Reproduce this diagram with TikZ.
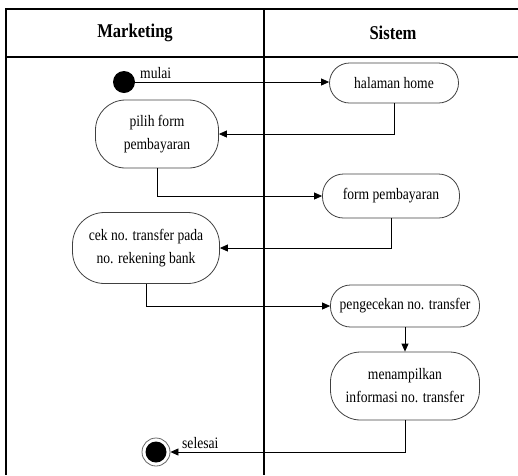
\documentclass[tikz,border=0pt]{standalone}
\usepackage{fontspec}
\setmainfont{Liberation Serif}[FakeStretch=0.85]
\usetikzlibrary{arrows.meta}
\begin{document}
\begin{tikzpicture}[x=1pt,y=-1pt,
  lane/.style={line width=1.1pt,black},
  act/.style={draw=black!75,line width=0.8pt,rounded corners=#1,align=center,
    inner sep=0pt,font=\fontsize{16}{23}\selectfont},
  act/.default=20pt,
  flow/.style={line width=0.8pt,black,-{Triangle[length=8pt,width=7pt]}},
  hdr/.style={font=\fontsize{19.5}{22}\selectfont\bfseries},
  lbl/.style={font=\fontsize{16}{18}\selectfont,inner sep=0pt}]
\useasboundingbox (0,0) rectangle (518,475);
% swimlane frame
\draw[lane] (518,9) -- (6,9) -- (6,475);
\draw[lane] (6,57) -- (518,57);
\draw[lane] (264,9) -- (264,475);
\node[hdr] (hm) at (135,33) {Marketing};
\node[hdr] (hs) at (393,33) {Sistem};
% activities
\node[circle,fill=black,minimum size=22pt,inner sep=0pt] (start) at (124,82) {};
\node[act=20pt,minimum width=129pt,minimum height=40pt] (home) at (394,83) {halaman home};
\node[act=30pt,minimum width=123pt,minimum height=68pt] (pilih) at (157,134) {pilih form\\pembayaran};
\node[act=21pt,minimum width=137pt,minimum height=44pt] (form) at (391,196) {form pembayaran};
\node[act=32pt,minimum width=147pt,minimum height=71pt] (cek) at (146,248) {cek no. transfer pada\\no. rekening bank};
\node[act=20pt,minimum width=149pt,minimum height=42pt] (periksa) at (405,306) {pengecekan no. transfer};
\node[act=30pt,minimum width=149pt,minimum height=68pt] (tampil) at (405,386) {menampilkan\\informasi no. transfer};
\node[circle,draw=black!60,line width=0.8pt,minimum size=28pt,inner sep=0pt] (end) at (156,452) {};
\node[circle,fill=black,minimum size=21pt,inner sep=0pt] (endin) at (end) {};
% labels
\node[lbl,anchor=south west] (lm) at (140,79) {mulai};
\node[lbl,anchor=south west] (ls) at (182,449) {selesai};
% flows
\draw[flow] (start.east) -- (home.west |- start.east);
\draw[flow] (home.south) |- (pilih.east);
\draw[flow] (pilih.south) |- (form.west);
\draw[flow] (form.south) |- (cek.east);
\draw[flow] (cek.south) |- (periksa.west);
\draw[flow] (periksa.south) -- (tampil.north);
\draw[flow] (tampil.south) |- (end.east);
\end{tikzpicture}
\end{document}
